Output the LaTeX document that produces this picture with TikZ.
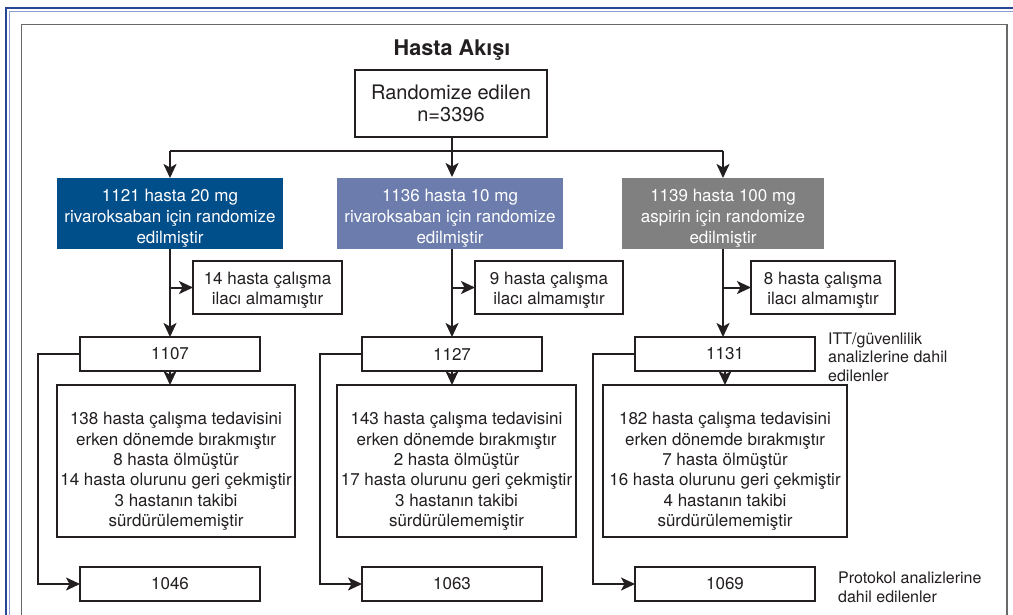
\documentclass[tikz,border=0pt]{standalone}
\usepackage{fontspec}
\setmainfont{TeX Gyre Heros}
\usetikzlibrary{arrows.meta}
\definecolor{ink}{HTML}{231F20}
\definecolor{boxA}{RGB}{0,78,138}
\definecolor{boxB}{RGB}{108,125,173}
\definecolor{boxC}{RGB}{128,128,128}
\definecolor{frameDark}{RGB}{40,70,150}
\definecolor{frameLight}{RGB}{140,160,210}
\definecolor{frameGray}{RGB}{105,105,105}
\tikzset{
  wbox/.style={draw=ink, line width=2pt, fill=white, inner sep=0pt, outer sep=0pt, align=center, text=ink, font=\fontsize{17}{20}\selectfont},
  cbox/.style={inner sep=0pt, outer sep=0pt},
  txt/.style={inner sep=0pt, align=center, text=ink, font=\fontsize{17}{20.4}\selectfont},
  wtxt/.style={inner sep=0pt, align=center, text=white, font=\fontsize{17}{21}\selectfont},
  arr/.style={draw=ink, line width=2pt, -{Stealth[length=14pt,width=13pt,inset=3.5pt]}},
  ln/.style={draw=ink, line width=2pt},
  note/.style={align=left, text=ink, font=\fontsize{16}{18.5}\selectfont, inner sep=0pt, anchor=base west},
}
\begin{document}
\begin{tikzpicture}[x=1pt,y=-1pt]
\useasboundingbox (0,0) rectangle (1013,614);
\clip (0,0) rectangle (1013,614);
\fill[white] (0,0) rectangle (1013,614);
% frame
\draw[frameDark, line width=2.8pt] (6,630) -- (6,8) -- (1030,8);
\draw[frameLight, line width=1.4pt] (9.7,630) -- (9.7,11.2) -- (1030,11.2);
\draw[frameGray, line width=1.3pt] (21.5,630) -- (21.5,24.5) -- (1007,24.5) -- (1007,630);
% title
\node[anchor=base, text=ink, font=\bfseries\fontsize{21.6}{24}\selectfont, inner sep=0pt] (title) at (452,55) {Hasta Akışı};
% top box
\node[wbox, minimum width=192pt, minimum height=67pt, font=\fontsize{20}{22}\selectfont] (rand) at (451,103.5) {Randomize edilen\\n=3396};
% coloured boxes
\node[cbox, fill=boxA, minimum width=226pt, minimum height=71pt] (c1) at (170,213.5) {};
\node[cbox, fill=boxB, minimum width=226pt, minimum height=71pt] (c2) at (450,213.5) {};
\node[cbox, fill=boxC, minimum width=202pt, minimum height=71pt] (c3) at (723,213.5) {};
\node[wtxt] (c1t) at (170,218) {1121 hasta 20 mg\\rivaroksaban için randomize\\edilmiştir};
\node[wtxt] (c2t) at (450,218) {1136 hasta 10 mg\\rivaroksaban için randomize\\edilmiştir};
\node[wtxt] (c3t) at (723,218) {1139 hasta 100 mg\\aspirin için randomize\\edilmiştir};
% side boxes
\node[wbox, minimum width=149pt, minimum height=53pt] (s1) at (267.5,287.5) {};
\node[wbox, minimum width=148pt, minimum height=53pt] (s2) at (549,287.5) {};
\node[wbox, minimum width=144pt, minimum height=53pt] (s3) at (823,287.5) {};
\node[txt] (s1t) at (267.5,290) {14 hasta çalışma\\ilacı almamıştır};
\node[txt] (s2t) at (549,290) {9 hasta çalışma\\ilacı almamıştır};
\node[txt] (s3t) at (823,290) {8 hasta çalışma\\ilacı almamıştır};
% ITT boxes
\node[wbox, minimum width=180pt, minimum height=34pt] (i1) at (170,354) {1107};
\node[wbox, minimum width=180pt, minimum height=34pt] (i2) at (452,354) {1127};
\node[wbox, minimum width=180pt, minimum height=34pt] (i3) at (725,354) {1131};
% big boxes
\node[wbox, minimum width=238pt, minimum height=152pt] (b1) at (176,461) {};
\node[wbox, minimum width=239pt, minimum height=152pt] (b2) at (456.5,461) {};
\node[wbox, minimum width=244pt, minimum height=152pt] (b3) at (725,461) {};
\node[txt] (b1t) at (176,471.5) {138 hasta çalışma tedavisini\\erken dönemde bırakmıştır\\8 hasta ölmüştür\\14 hasta olurunu geri çekmiştir\\3 hastanın takibi\\sürdürülememiştir};
\node[txt] (b2t) at (456.5,471.5) {143 hasta çalışma tedavisini\\erken dönemde bırakmıştır\\2 hasta ölmüştür\\17 hasta olurunu geri çekmiştir\\3 hastanın takibi\\sürdürülememiştir};
\node[txt] (b3t) at (725,471.5) {182 hasta çalışma tedavisini\\erken dönemde bırakmıştır\\7 hasta ölmüştür\\16 hasta olurunu geri çekmiştir\\4 hastanın takibi\\sürdürülememiştir};
% protocol boxes
\node[wbox, minimum width=180pt, minimum height=34pt] (p1) at (170,584) {1046};
\node[wbox, minimum width=180pt, minimum height=34pt] (p2) at (452,584) {1063};
\node[wbox, minimum width=180pt, minimum height=34pt] (p3) at (725,584) {1069};
% notes
\node[note] (itt) at (828,381) {ITT/güvenlilik\\analizlerine dahil\\edilenler};
\node[note] (prot) at (838,602) {Protokol analizlerine\\dahil edilenler};
% connectors
\coordinate (hl) at (170,151);
\coordinate (hr) at (723,151);
\draw[ln] (hl) -- (hr);
\draw[arr] (452,137) -- (452,177);
\draw[arr] (hl) -- (hl |- c1.north);
\draw[arr] (hr) -- (hr |- c3.north);
\draw[arr] (c1.south) -- (c1.south |- i1.north);
\draw[arr] (i2.north |- c2.south) -- (i2.north);
\draw[arr] (c3.south) -- (c3.south |- i3.north);
\draw[arr] (c1.south |- s1.west) -- (s1.west);
\draw[arr] (i2.north |- s2.west) -- (s2.west);
\draw[arr] (c3.south |- s3.west) -- (s3.west);
\draw[arr] (i1.south) -- (i1.south |- b1.north);
\draw[arr] (i2.south) -- (i2.south |- b2.north);
\draw[arr] (i3.south) -- (i3.south |- b3.north);
\draw[arr] (i1.west) -- ++(-42,0) |- (p1.west);
\draw[arr] (i2.west) -- ++(-42,0) |- (p2.west);
\draw[arr] (i3.west) -- ++(-42,0) |- (p3.west);
\end{tikzpicture}
\end{document}
